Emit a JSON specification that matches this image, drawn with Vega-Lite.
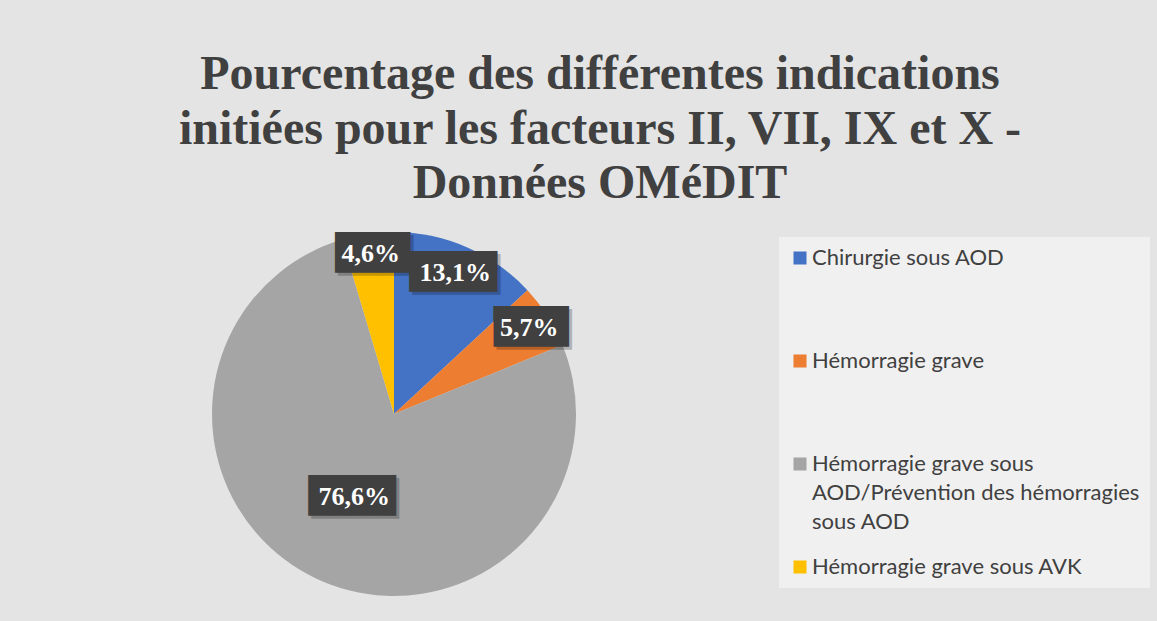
{
  "$schema": "https://vega.github.io/schema/vega-lite/v6.json",
  "width": 770,
  "height": 354,
  "autosize": {"type": "pad"},
  "padding": {"left": 9, "top": 51, "right": 40, "bottom": 40},
  "background": "#e4e4e4",
  "title": {
    "text": ["Pourcentage des différentes indications", "initiées pour les facteurs II, VII, IX et X -", "Données OMéDIT"],
    "font": "Liberation Serif",
    "fontSize": 48,
    "fontWeight": "bold",
    "color": "#404040",
    "lineHeight": 54.5,
    "offset": 24,
    "anchor": "middle",
    "dx": 206
  },
  "config": {
    "view": {"stroke": null},
    "locale": {"number": {"decimal": ",", "thousands": " ", "grouping": [3], "currency": ["", " €"]}},
    "style": {"guide-label": {"lineHeight": 29}}
  },
  "data": {
    "values": [
      {"category": "Chirurgie sous AOD", "value": 0.131},
      {"category": "Hémorragie grave", "value": 0.057},
      {"category": "Hémorragie grave sous AOD/Prévention des hémorragies sous AOD", "value": 0.766},
      {"category": "Hémorragie grave sous AVK", "value": 0.046}
    ]
  },
  "encoding": {
    "theta": {"field": "value", "type": "quantitative", "stack": true},
    "order": {"field": "category", "type": "ordinal", "sort": "ascending"}
  },
  "layer": [
    {
      "mark": {"type": "arc", "radius": 182},
      "encoding": {
        "color": {
          "field": "category",
          "type": "nominal",
          "scale": {
            "domain": ["Chirurgie sous AOD", "Hémorragie grave", "Hémorragie grave sous AOD/Prévention des hémorragies sous AOD", "Hémorragie grave sous AVK"],
            "range": ["#4472C4", "#ED7D31", "#A5A5A5", "#FFC000"]
          },
          "legend": {
            "title": null,
            "orient": "right",
            "offset": 0,
            "padding": 10,
            "fillColor": "#f0f0f0",
            "symbolType": "square",
            "symbolSize": 169,
            "symbolStrokeWidth": 0,
            "symbolOpacity": 1,
            "labelFont": "Lato",
            "labelFontSize": 22,
            "labelColor": "#404040",
            "labelLimit": 500,
            "labelOffset": 1,
            "rowPadding": 23,
            "labelBaseline": "middle",
            "labelExpr": "datum.label == 'Chirurgie sous AOD' || datum.label == 'Hémorragie grave' ? [datum.label, '', ''] : datum.label == 'Hémorragie grave sous AOD/Prévention des hémorragies sous AOD' ? ['Hémorragie grave sous', 'AOD/Prévention des hémorragies', 'sous AOD'] : datum.label"
          }
        }
      }
    },
    {
      "transform": [{"calculate": "datum.value >= 0.1 ? '████▎' : '███▋'", "as": "box"}],
      "mark": {"type": "text", "font": "DejaVu Sans Mono", "fontSize": 34.4, "color": "#000000", "opacity": 0.22, "dx": 9, "dy": 3},
      "encoding": {
        "text": {"field": "box", "type": "nominal"},
        "radius": {"field": "value", "type": "quantitative", "scale": {"type": "linear", "domain": [0, 0.766], "range": [166, 92], "zero": false, "nice": false, "clamp": false}}
      }
    },
    {
      "transform": [{"calculate": "datum.value >= 0.1 ? '████▎' : '███▋'", "as": "box"}],
      "mark": {"type": "text", "font": "DejaVu Sans Mono", "fontSize": 34.4, "color": "#404040", "dx": 6},
      "encoding": {
        "text": {"field": "box", "type": "nominal"},
        "radius": {"field": "value", "type": "quantitative", "scale": {"type": "linear", "domain": [0, 0.766], "range": [166, 92], "zero": false, "nice": false, "clamp": false}}
      }
    },
    {
      "mark": {"type": "text", "font": "Liberation Serif", "fontWeight": "bold", "fontSize": 26, "color": "#ffffff"},
      "encoding": {
        "text": {"field": "value", "type": "quantitative", "format": ".1%"},
        "radius": {"field": "value", "type": "quantitative", "scale": {"type": "linear", "domain": [0, 0.766], "range": [166, 92], "zero": false, "nice": false, "clamp": false}}
      }
    }
  ]
}
